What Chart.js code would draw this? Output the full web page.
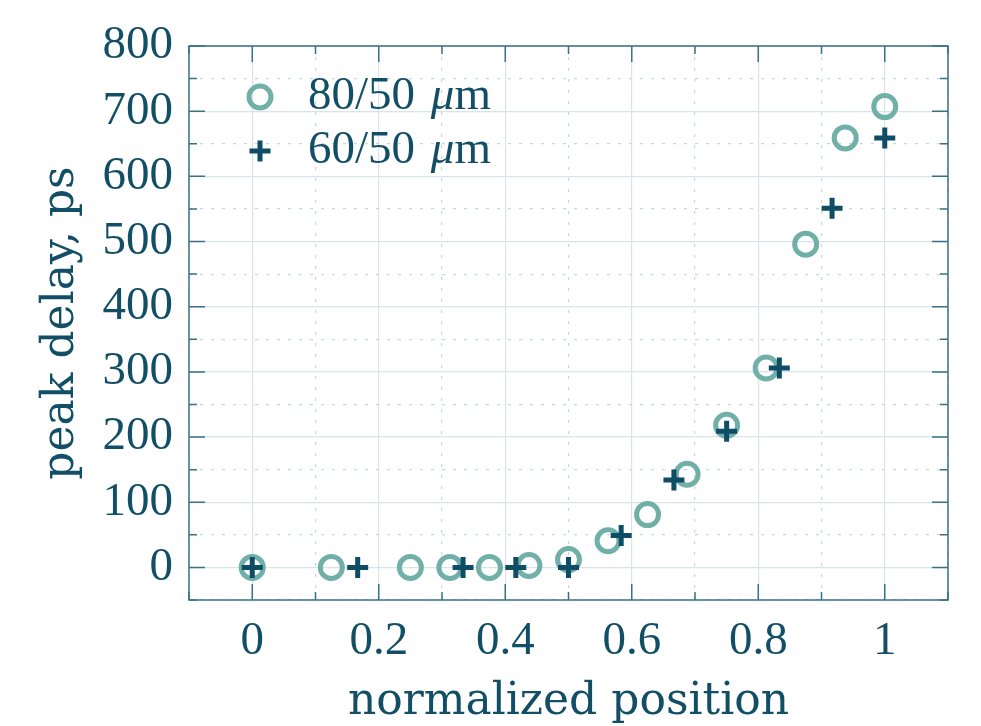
<!DOCTYPE html>
<html>
<head>
<meta charset="utf-8">
<script src="https://cdn.jsdelivr.net/npm/chart.js@4/dist/chart.umd.min.js"></script>
<style>
  html, body { margin: 0; padding: 0; background: #ffffff; }
  #wrap { width: 981px; height: 726px; position: relative; }
</style>
</head>
<body>
<div id="wrap"><canvas id="c" width="981" height="726"></canvas></div>
<script>
// ---- data ----
const seriesNames = ['80/50', '60/50'];
const x80 = [0, 0.125, 0.25, 0.3125, 0.375, 0.4375, 0.5, 0.5625, 0.625, 0.6875, 0.75, 0.8125, 0.875, 0.9375, 1];
const y80 = [0, 0, 0, 0, 0, 3, 12, 41, 81, 143, 218, 306, 496, 659, 707];
const x60 = [0, 0.1667, 0.3333, 0.4167, 0.5, 0.5833, 0.6667, 0.75, 0.8333, 0.9167, 1];
const y60 = [0, 0, 0, 0, 0, 49, 134, 209, 306, 551, 659];
const xTickLabels = ['0', '0.2', '0.4', '0.6', '0.8', '1'];
const yTickLabels = ['0', '100', '200', '300', '400', '500', '600', '700', '800'];
const xTitle = 'normalized position';
const yTitle = 'peak delay, ps';

// ---- styles ----
const TEXT = '#124f67';
const FRAME = '#3a7187';
const C_CIRCLE = '#71b0a8';
const C_PLUS = '#0e4d65';
const FONT = '"Liberation Serif", "DejaVu Serif", serif';
const TFONT = '"DejaVu Serif", "Liberation Serif", serif';
const FS = 47;
const TFS = 44;

function pts(xs, ys) { return xs.map((x, i) => ({ x: x, y: ys[i] })); }

const isMajorX = v => Math.round(v * 10) % 2 === 0;
const isMajorY = v => Math.round(v) % 100 === 0;

const frameTicks = {
  id: 'frameTicks',
  afterDatasetsDraw(chart) {
    const { ctx, chartArea: a, scales } = chart;
    ctx.save();
    ctx.strokeStyle = FRAME;
    ctx.lineWidth = 1.5;
    ctx.beginPath();
    scales.x.ticks.forEach(t => {
      const px = scales.x.getPixelForValue(t.value);
      const L = isMajorX(t.value) ? 16 : 8;
      ctx.moveTo(px, a.bottom); ctx.lineTo(px, a.bottom - L);
      ctx.moveTo(px, a.top); ctx.lineTo(px, a.top + L);
    });
    scales.y.ticks.forEach(t => {
      const py = scales.y.getPixelForValue(t.value);
      const L = isMajorY(t.value) ? 16 : 8;
      ctx.moveTo(a.left, py); ctx.lineTo(a.left + L, py);
      ctx.moveTo(a.right, py); ctx.lineTo(a.right - L, py);
    });
    ctx.stroke();
    ctx.strokeRect(a.left, a.top, a.right - a.left, a.bottom - a.top);
    ctx.restore();
  }
};

const insideLegend = {
  id: 'insideLegend',
  afterDraw(chart) {
    const { ctx, chartArea: a } = chart;
    const rows = [
      { ds: chart.data.datasets.find(d => d.label === seriesNames[0]), y: a.top + 51 },
      { ds: chart.data.datasets.find(d => d.label === seriesNames[1]), y: a.top + 105 }
    ];
    ctx.save();
    rows.forEach(r => {
      const mx = a.left + 71;
      const rad = r.ds.pointRadius;
      ctx.strokeStyle = r.ds.borderColor;
      ctx.lineWidth = r.ds.borderWidth;
      ctx.beginPath();
      if (r.ds.pointStyle === 'circle') {
        ctx.arc(mx, r.y, rad, 0, Math.PI * 2);
      } else {
        ctx.moveTo(mx - rad, r.y); ctx.lineTo(mx + rad, r.y);
        ctx.moveTo(mx, r.y - rad); ctx.lineTo(mx, r.y + rad);
      }
      ctx.stroke();
      ctx.fillStyle = TEXT;
      ctx.textBaseline = 'middle';
      ctx.textAlign = 'left';
      let tx = a.left + 119;
      ctx.font = FS + 'px ' + FONT;
      const part1 = r.ds.label + ' ';
      ctx.fillText(part1, tx, r.y);
      tx += ctx.measureText(part1).width + 4;
      ctx.font = 'italic ' + FS + 'px ' + FONT;
      ctx.fillText('\u03bc', tx, r.y);
      tx += ctx.measureText('\u03bc').width;
      ctx.font = FS + 'px ' + FONT;
      ctx.fillText('m', tx, r.y);
    });
    ctx.restore();
  }
};

new Chart(document.getElementById('c'), {
  type: 'scatter',
  data: {
    datasets: [
      {
        label: seriesNames[1],
        data: pts(x60, y60),
        pointStyle: 'cross',
        pointRadius: 10.5,
        pointHoverRadius: 10.5,
        borderWidth: 5,
        borderColor: C_PLUS,
        backgroundColor: C_PLUS,
        order: 0
      },
      {
        label: seriesNames[0],
        data: pts(x80, y80),
        pointStyle: 'circle',
        pointRadius: 11,
        pointHoverRadius: 11,
        borderWidth: 5,
        borderColor: C_CIRCLE,
        backgroundColor: 'rgba(0,0,0,0)',
        order: 1
      }
    ]
  },
  options: {
    responsive: false,
    animation: false,
    events: [],
    layout: { padding: { left: 0, right: 33, top: 46, bottom: 0 } },
    plugins: { legend: { display: false }, tooltip: { enabled: false } },
    scales: {
      x: {
        type: 'linear',
        min: -0.1,
        max: 1.1,
        afterFit(s) { s.height = 126; },
        ticks: {
          stepSize: 0.1,
          autoSkip: false,
          maxRotation: 0,
          padding: 13,
          color: TEXT,
          font: { family: FONT, size: FS },
          callback(v) {
            const k = Math.round(v * 10);
            if (k < 0 || k > 10 || k % 2 !== 0) return '';
            return xTickLabels[k / 2];
          }
        },
        grid: {
          drawTicks: false,
          lineWidth: 1.2,
          color: c => (c.tick && isMajorX(c.tick.value)) ? '#d8e4e8' : '#c4d8de'
        },
        border: {
          display: false,
          dash: c => (c.tick && isMajorX(c.tick.value)) ? [] : [3, 8]
        },
        title: {
          display: true,
          text: xTitle,
          color: TEXT,
          font: { family: TFONT, size: TFS, lineHeight: 1 },
          padding: { top: 0, bottom: 1 }
        }
      },
      y: {
        type: 'linear',
        min: -50,
        max: 800,
        afterFit(s) { s.width = 189; },
        ticks: {
          stepSize: 50,
          autoSkip: false,
          padding: 16,
          color: TEXT,
          font: { family: FONT, size: FS },
          callback(v) {
            const k = Math.round(v);
            if (k < 0 || k % 100 !== 0) return '';
            return yTickLabels[k / 100];
          }
        },
        grid: {
          drawTicks: false,
          lineWidth: 1.2,
          color: c => (c.tick && isMajorY(c.tick.value)) ? '#d8e4e8' : '#c4d8de'
        },
        border: {
          display: false,
          dash: c => (c.tick && isMajorY(c.tick.value)) ? [] : [3, 8]
        },
        title: {
          display: true,
          text: yTitle,
          color: TEXT,
          font: { family: TFONT, size: TFS, lineHeight: 1 },
          padding: { top: 40, bottom: 0 }
        }
      }
    }
  },
  plugins: [frameTicks, insideLegend]
});
</script>
</body>
</html>
